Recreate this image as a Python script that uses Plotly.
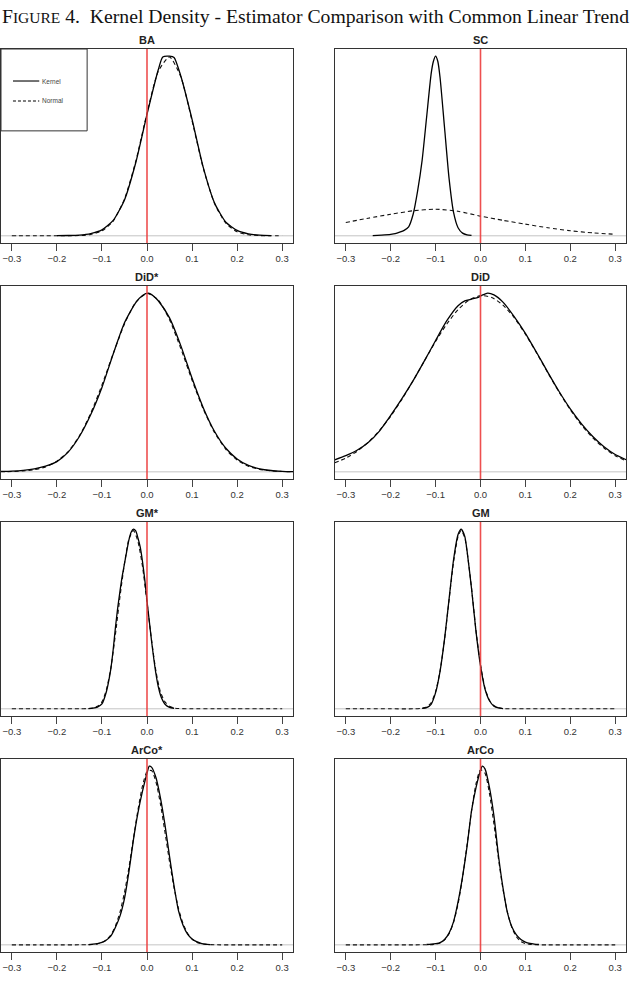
import plotly.graph_objects as go

# ---------------- data ----------------
TITLES = ["BA", "SC", "DiD*", "DiD", "GM*", "GM", "ArCo*", "ArCo"]
TICK_VALUES = [-0.3, -0.2, -0.1, 0.0, 0.1, 0.2, 0.3]

BA_KX = [-0.2, -0.175, -0.15, -0.125, -0.1, -0.075, -0.05, -0.025, 0.0, 0.025, 0.035, 0.05, 0.06,
         0.075, 0.1, 0.125, 0.15, 0.175, 0.2, 0.225, 0.25, 0.275]
BA_KY = [0.005, 0.012, 0.03, 0.09, 0.24, 0.62, 1.45, 2.95, 4.90, 6.70, 7.22, 7.25, 7.20,
         6.45, 4.70, 2.75, 1.32, 0.55, 0.22, 0.08, 0.025, 0.008]
BA_NX = [-0.3, -0.275, -0.25, -0.225, -0.2, -0.175, -0.15, -0.125, -0.1, -0.075, -0.05, -0.025, 0.0,
         0.025, 0.05, 0.075, 0.1, 0.125, 0.15, 0.175, 0.2, 0.225, 0.25, 0.275, 0.3]
BA_NY = [0.0, 0.0, 0.0, 0.0, 0.0003, 0.002, 0.011, 0.051, 0.196, 0.595, 1.486, 3.00, 4.95,
         6.64, 7.22, 6.42, 4.64, 2.72, 1.30, 0.508, 0.160, 0.041, 0.009, 0.0015, 0.0002]

SC_KX = [-0.24, -0.22, -0.2, -0.19, -0.18, -0.17, -0.16, -0.15, -0.14, -0.13, -0.12, -0.11, -0.105,
         -0.1, -0.095, -0.09, -0.08, -0.07, -0.06, -0.05, -0.04, -0.03, -0.02]
SC_KY = [0.02, 0.08, 0.16, 0.23, 0.39, 0.59, 0.98, 2.34, 4.88, 8.19, 12.87, 17.55, 18.92,
         19.5, 18.92, 17.16, 11.7, 6.24, 2.54, 0.88, 0.29, 0.1, 0.04]
SC_NX = [-0.3, -0.25, -0.2, -0.15, -0.1, -0.05, 0.0, 0.05, 0.1, 0.15, 0.2, 0.25, 0.3]
SC_NY = [1.45, 1.91, 2.34, 2.72, 2.89, 2.66, 2.14, 1.68, 1.27, 0.87, 0.55, 0.32, 0.17]

DIDS_KX = [-0.325, -0.3, -0.275, -0.25, -0.225, -0.2, -0.175, -0.15, -0.125, -0.1, -0.075, -0.05,
           -0.025, -0.01, 0.003, 0.015, 0.025, 0.05, 0.075, 0.1, 0.125, 0.15, 0.175, 0.2, 0.225,
           0.25, 0.275, 0.3, 0.325]
DIDS_KY = [0.012, 0.02, 0.04, 0.08, 0.15, 0.27, 0.52, 0.93, 1.50, 2.22, 3.10, 3.92,
           4.45, 4.64, 4.70, 4.62, 4.50, 4.05, 3.32, 2.46, 1.68, 1.06, 0.62, 0.34, 0.17,
           0.08, 0.035, 0.015, 0.006]
DIDS_NX = [-0.325, -0.3, -0.275, -0.25, -0.225, -0.2, -0.175, -0.15, -0.125, -0.1, -0.075, -0.05,
           -0.025, 0.0, 0.025, 0.05, 0.075, 0.1, 0.125, 0.15, 0.175, 0.2, 0.225, 0.25, 0.275,
           0.3, 0.325]
DIDS_NY = [0.004, 0.008, 0.023, 0.056, 0.131, 0.281, 0.535, 0.947, 1.538, 2.284, 3.109, 3.888,
           4.460, 4.69, 4.521, 4.0, 3.245, 2.41, 1.646, 1.032, 0.591, 0.31, 0.15, 0.066, 0.028,
           0.009, 0.003]

DID_KX = [-0.325, -0.3, -0.275, -0.25, -0.225, -0.2, -0.175, -0.15, -0.125, -0.1, -0.075, -0.05,
          -0.035, -0.02, -0.005, 0.005, 0.016, 0.03, 0.05, 0.075, 0.1, 0.125, 0.15, 0.175, 0.2,
          0.225, 0.25, 0.275, 0.3, 0.325]
DID_KY = [0.20, 0.27, 0.36, 0.49, 0.68, 0.94, 1.22, 1.52, 1.85, 2.19, 2.52, 2.77,
          2.85, 2.88, 2.91, 2.95, 2.98, 2.95, 2.83, 2.59, 2.31, 1.99, 1.66, 1.34, 1.05,
          0.80, 0.59, 0.42, 0.29, 0.20]
DID_NX = [-0.325, -0.3, -0.275, -0.25, -0.225, -0.2, -0.175, -0.15, -0.125, -0.1, -0.075, -0.05,
          -0.025, 0.0, 0.025, 0.05, 0.075, 0.1, 0.125, 0.15, 0.175, 0.2, 0.225, 0.25, 0.275,
          0.3, 0.325]
DID_NY = [0.151, 0.229, 0.342, 0.494, 0.689, 0.928, 1.209, 1.521, 1.848, 2.174, 2.466, 2.706,
          2.868, 2.939, 2.908, 2.781, 2.571, 2.295, 1.981, 1.651, 1.330, 1.036, 0.779, 0.566,
          0.398, 0.270, 0.180]

GMS_KX = [-0.13, -0.12, -0.11, -0.10, -0.09, -0.085, -0.08, -0.075, -0.07, -0.065, -0.06, -0.055,
          -0.05, -0.045, -0.04, -0.035, -0.03, -0.025, -0.02, -0.015, -0.01, -0.005, 0.0, 0.005,
          0.01, 0.015, 0.02, 0.025, 0.03, 0.035, 0.04, 0.05, 0.06]
GMS_KY = [0.02, 0.05, 0.12, 0.35, 1.25, 2.0, 2.95, 4.29, 5.9, 7.3, 8.5, 9.6,
          10.5, 11.4, 12.25, 12.8, 13.0, 12.87, 12.35, 11.7, 10.66, 9.36, 7.8, 6.37,
          4.94, 3.64, 2.5, 1.6, 0.98, 0.59, 0.33, 0.10, 0.04]
GMS_NX = [-0.3, -0.25, -0.2, -0.15, -0.13, -0.12, -0.11, -0.10, -0.09, -0.08, -0.07, -0.06, -0.05,
          -0.04, -0.03, -0.02, -0.01, 0.0, 0.01, 0.02, 0.03, 0.04, 0.05, 0.06, 0.07, 0.1, 0.15,
          0.2, 0.25, 0.3]
GMS_NY = [0.0, 0.0, 0.0, 0.002, 0.02, 0.06, 0.18, 0.5, 1.4, 3.0, 5.4, 8.1, 10.5,
          12.3, 12.9, 12.1, 10.3, 7.7, 5.0, 2.7, 1.2, 0.5, 0.18, 0.06, 0.02, 0.001, 0.0,
          0.0, 0.0, 0.0]

GM_KX = [-0.13, -0.12, -0.11, -0.10, -0.09, -0.08, -0.07, -0.06, -0.05, -0.043, -0.035, -0.03,
         -0.02, -0.01, 0.0, 0.01, 0.02, 0.03, 0.04, 0.05]
GM_KY = [0.03, 0.09, 0.37, 1.32, 3.09, 5.73, 8.97, 12.2, 14.26, 14.7, 14.11, 12.94,
         9.85, 6.32, 3.53, 1.62, 0.66, 0.22, 0.07, 0.015]
GM_NX = [-0.3, -0.25, -0.2, -0.15, -0.13, -0.12, -0.11, -0.10, -0.09, -0.08, -0.07, -0.06, -0.05,
         -0.043, -0.035, -0.03, -0.02, -0.01, 0.0, 0.01, 0.02, 0.03, 0.04, 0.05, 0.07, 0.1, 0.15,
         0.2, 0.25, 0.3]
GM_NY = [0.0, 0.0, 0.0, 0.003, 0.05, 0.15, 0.5, 1.4, 3.1, 5.7, 8.9, 12.0, 14.1,
         14.6, 14.0, 12.9, 9.9, 6.4, 3.6, 1.7, 0.7, 0.25, 0.08, 0.02, 0.002, 0.0, 0.0,
         0.0, 0.0, 0.0]

ARS_KX = [-0.13, -0.12, -0.11, -0.10, -0.09, -0.08, -0.07, -0.06, -0.05, -0.04, -0.03, -0.02,
          -0.01, 0.0, 0.005, 0.01, 0.02, 0.03, 0.04, 0.05, 0.06, 0.07, 0.08, 0.09, 0.10, 0.11,
          0.12, 0.13, 0.14]
ARS_KY = [0.02, 0.04, 0.08, 0.15, 0.30, 0.56, 1.1, 1.8, 2.9, 4.6, 6.61, 8.29,
          9.63, 10.75, 11.2, 11.14, 10.47, 9.18, 7.50, 5.54, 3.70, 2.13, 1.23, 0.67, 0.37, 0.20,
          0.10, 0.045, 0.02]
ARS_NX = [-0.3, -0.25, -0.2, -0.15, -0.13, -0.12, -0.11, -0.10, -0.09, -0.08, -0.07, -0.06, -0.05,
          -0.04, -0.03, -0.02, -0.01, 0.0, 0.01, 0.02, 0.03, 0.04, 0.05, 0.06, 0.07, 0.08, 0.09,
          0.10, 0.11, 0.12, 0.13, 0.15, 0.2, 0.25, 0.3]
ARS_NY = [0.0, 0.0, 0.0, 0.002, 0.009, 0.024, 0.062, 0.143, 0.31, 0.64, 1.19, 2.05, 3.28,
          4.86, 6.68, 8.47, 9.97, 10.85, 10.93, 10.2, 8.8, 7.04, 5.21, 3.58, 2.27, 1.33, 0.73,
          0.36, 0.17, 0.074, 0.03, 0.004, 0.0, 0.0, 0.0]

AR_KX = [-0.12, -0.11, -0.10, -0.09, -0.08, -0.07, -0.06, -0.05, -0.04, -0.03, -0.02, -0.01, 0.0,
         0.004, 0.01, 0.02, 0.03, 0.04, 0.05, 0.06, 0.07, 0.08, 0.09, 0.10, 0.11, 0.12, 0.13]
AR_KY = [0.026, 0.052, 0.09, 0.16, 0.39, 0.85, 1.69, 3.12, 4.94, 7.15, 9.75, 11.44, 12.68,
         13.0, 12.8, 11.44, 9.36, 6.5, 4.16, 2.34, 1.3, 0.72, 0.39, 0.2, 0.1, 0.05, 0.026]
AR_NX = [-0.3, -0.25, -0.2, -0.15, -0.12, -0.11, -0.10, -0.09, -0.08, -0.07, -0.06, -0.05, -0.04,
         -0.03, -0.02, -0.01, 0.0, 0.01, 0.02, 0.03, 0.04, 0.05, 0.06, 0.07, 0.08, 0.09, 0.10,
         0.11, 0.13, 0.15, 0.2, 0.25, 0.3]
AR_NY = [0.0, 0.0, 0.0, 0.001, 0.005, 0.017, 0.05, 0.14, 0.36, 0.81, 1.63, 2.97, 4.89,
         7.26, 9.73, 11.72, 12.74, 12.48, 11.0, 8.76, 6.27, 4.06, 2.36, 1.24, 0.59, 0.24, 0.096,
         0.033, 0.003, 0.0, 0.0, 0.0, 0.0]

KERNELS = [(BA_KX, BA_KY), (SC_KX, SC_KY), (DIDS_KX, DIDS_KY), (DID_KX, DID_KY),
           (GMS_KX, GMS_KY), (GM_KX, GM_KY), (ARS_KX, ARS_KY), (AR_KX, AR_KY)]
NORMALS = [(BA_NX, BA_NY), (SC_NX, SC_NY), (DIDS_NX, DIDS_NY), (DID_NX, DID_NY),
           (GMS_NX, GMS_NY), (GM_NX, GM_NY), (ARS_NX, ARS_NY), (AR_NX, AR_NY)]

# ---------------- layout geometry (pixels) ----------------
W, H = 631, 987
COL_PX = [(1, 293), (335, 626)]
ROW_PX = [(49, 243), (286, 479), (522, 716), (759, 952)]
SANS = "Liberation Sans, Arial, sans-serif"

fig = go.Figure()
layout = dict(width=W, height=H, margin=dict(l=0, r=0, t=0, b=0),
              paper_bgcolor="white", plot_bgcolor="white", showlegend=False,
              shapes=[], annotations=[])

for i, title in enumerate(TITLES):
    r, c = divmod(i, 2)
    k = i + 1
    xs = "" if k == 1 else str(k)
    xname, yname = "x" + xs, "y" + xs
    x0, x1 = COL_PX[c]
    t0, t1 = ROW_PX[r]
    kx, ky = KERNELS[i]
    nx, ny = NORMALS[i]
    ymax = max(ky)
    fig.add_trace(go.Scatter(x=nx, y=ny, mode="lines", xaxis=xname, yaxis=yname,
                             line=dict(color="#111", width=1.1, dash="4px,3px",
                                       shape="spline", smoothing=0.6),
                             hoverinfo="skip"))
    fig.add_trace(go.Scatter(x=kx, y=ky, mode="lines", xaxis=xname, yaxis=yname,
                             line=dict(color="#000", width=1.3, shape="spline", smoothing=0.6),
                             hoverinfo="skip"))
    layout["xaxis" + xs] = dict(
        domain=[x0 / W, x1 / W], anchor=yname, range=[-0.324, 0.324],
        tickmode="array", tickvals=TICK_VALUES, tickformat=".1f",
        ticks="outside", ticklen=7, tickwidth=1, tickcolor="#444",
        tickfont=dict(family=SANS, size=9.5, color="#333"),
        showline=True, linecolor="#333", linewidth=1, mirror=True,
        showgrid=False, zeroline=False, fixedrange=True)
    layout["yaxis" + xs] = dict(
        domain=[1 - t1 / H, 1 - t0 / H], anchor=xname,
        range=[-0.04 * ymax, 1.04 * ymax], showticklabels=False, ticks="",
        showline=True, linecolor="#333", linewidth=1, mirror=True,
        showgrid=False, zeroline=False, fixedrange=True)
    # zero line (gray) and reference line at 0 (red)
    layout["shapes"].append(dict(type="line", xref=xname + " domain", yref=yname,
                                 x0=0, x1=1, y0=0, y1=0,
                                 line=dict(color="#c4c4c4", width=1), layer="below"))
    layout["shapes"].append(dict(type="line", xref=xname, yref=yname + " domain",
                                 x0=0, x1=0, y0=0, y1=1,
                                 line=dict(color="rgba(236,60,60,0.9)", width=1.6), layer="above"))
    layout["annotations"].append(dict(
        text="<b>" + title + "</b>", xref=xname + " domain", yref=yname + " domain",
        x=0.5, y=1, xanchor="center", yanchor="bottom", yshift=1, showarrow=False,
        font=dict(family=SANS, size=11, color="#222")))

# legend box in BA panel
layout["shapes"].append(dict(type="rect", xref="x domain", yref="y domain",
                             x0=0, x1=0.295, y0=0.578, y1=1,
                             line=dict(color="#333", width=1), fillcolor="white", layer="above"))
layout["shapes"].append(dict(type="line", xref="x domain", yref="y domain",
                             x0=0.041, x1=0.131, y0=0.835, y1=0.835,
                             line=dict(color="#000", width=1.1), layer="above"))
layout["shapes"].append(dict(type="line", xref="x domain", yref="y domain",
                             x0=0.041, x1=0.131, y0=0.732, y1=0.732,
                             line=dict(color="#000", width=1.1, dash="3px,2px"), layer="above"))
for lab, yy in [("Kernel", 0.835), ("Normal", 0.732)]:
    layout["annotations"].append(dict(
        text=lab, xref="x domain", yref="y domain", x=0.134, y=yy,
        xanchor="left", yanchor="middle", showarrow=False,
        font=dict(family=SANS, size=6.5, color="#444")))

# main title
layout["annotations"].append(dict(
    text="F<span style='font-size:15.5px'>IGURE</span> 4.  Kernel Density - Estimator Comparison with Common Linear Trend",
    xref="paper", yref="paper", x=0.5, y=1 - 16 / H, xanchor="center", yanchor="middle",
    showarrow=False, font=dict(family="Liberation Serif, Times New Roman, serif", size=19.7, color="#111")))

fig.update_layout(**layout)
fig.write_html("out.html")
